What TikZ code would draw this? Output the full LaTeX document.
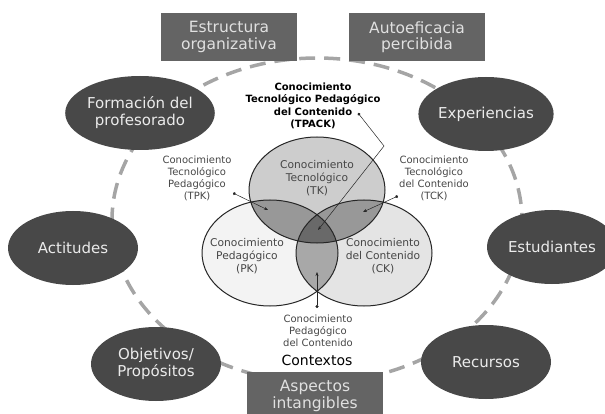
\documentclass[tikz,border=0pt]{standalone}
\usepackage{fontspec}
\setmainfont{DejaVu Sans}
\usetikzlibrary{shapes.geometric,arrows.meta}
\definecolor{factcol}{RGB}{72,72,72}
\definecolor{boxcol}{RGB}{100,100,100}
\definecolor{ringcol}{RGB}{165,165,165}
\definecolor{tkcol}{RGB}{205,205,205}
\definecolor{pkcol}{RGB}{243,243,243}
\definecolor{ckcol}{RGB}{228,228,228}
\definecolor{paircol}{RGB}{152,152,152}
\definecolor{pckcol}{RGB}{168,168,168}
\definecolor{tricol}{RGB}{105,105,105}
\definecolor{labcol}{RGB}{70,70,70}
\tikzset{every picture/.style={x=1pt,y=-1pt}}
\tikzset{factor/.style={ellipse,fill=factcol,text=white!92!black,inner sep=0pt,minimum width=130,minimum height=74,align=center,font=\fontsize{15}{17}\selectfont}}
\tikzset{block/.style={rectangle,fill=boxcol,text=white!88!black,inner sep=0pt,minimum width=136,minimum height=48,align=center,font=\fontsize{15.5}{16.5}\selectfont}}
\tikzset{ring/.style={ringcol,line width=3.5pt,dash pattern=on 16pt off 9pt}}
\tikzset{venn/.style={draw=black!85,line width=1pt}}
\tikzset{vtext/.style={align=center,text=labcol,font=\fontsize{10.7}{13}\selectfont}}
\tikzset{annot/.style={align=center,text=labcol,font=\fontsize{10}{12}\selectfont}}
\tikzset{ptr/.style={black!85,line width=0.5pt,{Circle[length=3pt]}-{Stealth[length=4pt]}}}

\begin{document}
\begin{tikzpicture}
\useasboundingbox (0,0) rectangle (605,414);
% dashed ring
\draw [ring] (317,220) ellipse [x radius=205, y radius=162];
% venn sets
\coordinate (tkc) at (317,190);
\coordinate (pkc) at (270,253);
\coordinate (ckc) at (364,253);
\fill [pkcol] (pkc) ellipse [x radius=68, y radius=53];
\fill [ckcol] (ckc) ellipse [x radius=68, y radius=53];
\fill [tkcol] (tkc) ellipse [x radius=68, y radius=53];
\begin{scope}
\clip (pkc) ellipse [x radius=68, y radius=53];
\fill [pckcol] (ckc) ellipse [x radius=68, y radius=53];
\end{scope}
\begin{scope}
\clip (tkc) ellipse [x radius=68, y radius=53];
\fill [paircol] (pkc) ellipse [x radius=68, y radius=53];
\fill [paircol] (ckc) ellipse [x radius=68, y radius=53];
\clip (pkc) ellipse [x radius=68, y radius=53];
\fill [tricol] (ckc) ellipse [x radius=68, y radius=53];
\end{scope}
\draw [venn] (tkc) ellipse [x radius=68, y radius=53];
\draw [venn] (pkc) ellipse [x radius=68, y radius=53];
\draw [venn] (ckc) ellipse [x radius=68, y radius=53];
\node [vtext] (tk) at (317,178) {Conocimiento\\Tecnológico\\(TK)};
\node [vtext] (pk) at (247,256) {Conocimiento\\Pedagógico\\(PK)};
\node [vtext] (ck) at (383,256) {Conocimiento\\del Contenido\\(CK)};
% outer factors
\node [factor] (prof) at (140,113) {Formación del\\profesorado};
\node [factor] (exp) at (486,114) {Experiencias};
\node [factor] (act) at (73,248) {Actitudes};
\node [factor] (est) at (552,247) {Estudiantes};
\node [factor] (obj) at (156,364) {Objetivos/\\Propósitos};
\node [factor] (rec) at (486,362) {Recursos};
\node [block] (estr) at (229,37) {Estructura\\organizativa};
\node [block] (auto) at (417,37) {Autoeficacia\\percibida};
\node [block] (asp) at (315,396) {Aspectos\\intangibles};
\node [font=\fontsize{14}{15}\selectfont] (ctx) at (317,360) {Contextos};
% labels and pointers
\node [annot,text=black,font=\bfseries\fontsize{10}{12.3}\selectfont] (tpack) at (313,106) {Conocimiento\\Tecnológico Pedagógico\\del Contenido\\(TPACK)};
\node [annot] (tpk) at (197,178) {Conocimiento\\Tecnológico\\Pedagógico\\(TPK)};
\node [annot] (tck) at (434,178) {Conocimiento\\Tecnológico\\del Contenido\\(TCK)};
\node [annot] (pck) at (318,331) {Conocimiento\\Pedagógico\\del Contenido};
\coordinate (tpackdot) at (358,113);
\coordinate (tpackbend) at (384,146);
\coordinate (tpackin) at (318,230);
\coordinate (tpkdot) at (233,193);
\coordinate (tpkin) at (268,210);
\coordinate (tckdot) at (398,196);
\coordinate (tckin) at (363,212);
\coordinate (pckdot) at (317,308);
\coordinate (pckin) at (317,272);
\draw [ptr] (tpackdot) -- (tpackbend) -- (tpackin);
\draw [ptr] (tpkdot) -- (tpkin);
\draw [ptr] (tckdot) -- (tckin);
\draw [ptr] (pckdot) -- (pckin);
\end{tikzpicture}
\end{document}
